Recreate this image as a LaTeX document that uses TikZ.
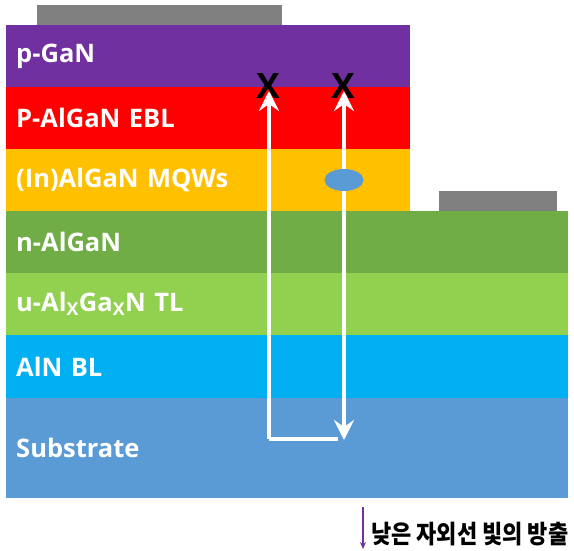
\documentclass[tikz,border=0pt]{standalone}
\usepackage{fontspec}
\setmainfont{Open Sans}
\newfontfamily\krfont{Noto Sans CJK KR}
\usetikzlibrary{arrows.meta,shapes.geometric}

\definecolor{cPGaN}{HTML}{7030A0}
\definecolor{cEBL}{HTML}{FF0000}
\definecolor{cMQW}{HTML}{FFC000}
\definecolor{cNAl}{HTML}{70AD47}
\definecolor{cTL}{HTML}{92D050}
\definecolor{cBL}{HTML}{00B0F0}
\definecolor{cSub}{HTML}{5B9BD5}
\definecolor{cPad}{HTML}{808080}

\tikzset{
  layer/.style={rectangle, draw=none, anchor=north west, inner xsep=10pt, inner ysep=0pt,
    minimum height=62pt, text=white, align=left,
    font=\fontsize{25.5}{28}\selectfont\bfseries},
  narrowlayer/.style={layer, minimum width=404pt, text width=384pt},
  widelayer/.style={layer, minimum width=562pt, text width=542pt},
  contact/.style={rectangle, draw=none, fill=cPad, anchor=north west, inner sep=0pt},
  beam/.style={draw=white, line width=4pt},
  wtip/.tip={Stealth[length=20pt,width=20pt,inset=7pt]},
  block/.style={font=\fontsize{35}{36}\selectfont\bfseries, text=black, inner sep=0pt},
}

\begin{document}
\begin{tikzpicture}[x=1pt,y=-1pt]
\useasboundingbox (0,0) rectangle (574,551);

% metal contacts
\node[contact, minimum width=245pt, minimum height=20pt] (ptop) at (37,5) {};
\node[contact, minimum width=118pt, minimum height=20pt] (npad) at (439,191) {};

% epitaxial stack
\node[narrowlayer, fill=cPGaN] (pgan) at (6,25) {p-GaN};
\node[narrowlayer, fill=cEBL] (ebl) at (6,87) {P-AlGaN EBL};
\node[narrowlayer, fill=cMQW] (mqw) at (6,149) {(In)AlGaN MQWs};
\node[widelayer, fill=cNAl] (nal) at (6,211) {n-AlGaN};
\node[widelayer, fill=cTL] (tl) at (6,273) {u-Al\textsubscript{X}Ga\textsubscript{X}N TL};
\node[widelayer, fill=cBL, minimum height=63pt] (bl) at (6,335) {AlN BL};
\node[widelayer, fill=cSub, minimum height=100pt] (sub) at (6,398) {Substrate};

% light paths
\coordinate (lb) at (269,439);
\coordinate (lt) at (269,91);
\coordinate (rt) at (344,91);
\coordinate (rb) at (344,440);
\coordinate (rc) at (338,439);
\draw[beam] (rc) -- (lb);
\draw[beam, -wtip] (lb) -- (lt);
\draw[beam, wtip-wtip] (rt) -- (rb);

% emitting well
\node[ellipse, fill=cSub, minimum width=39pt, minimum height=22pt, inner sep=0pt] (dot) at (344,180) {};

% blocked paths
\node[block] (xl) at (268,86) {X};
\node[block] (xr) at (343,86) {X};

% emission note
\coordinate (ea) at (363,507);
\coordinate (eb) at (363,549);
\draw[cPGaN, line width=1.3pt, -{Stealth[length=7pt,width=6pt]}] (ea) -- (eb);
\node[anchor=west, inner sep=0pt, font=\krfont\bfseries\fontsize{22}{24}\selectfont] (note) at (371,534) {\scalebox{1}[1.15]{낮은 자외선 빛의 방출}};
\end{tikzpicture}
\end{document}
